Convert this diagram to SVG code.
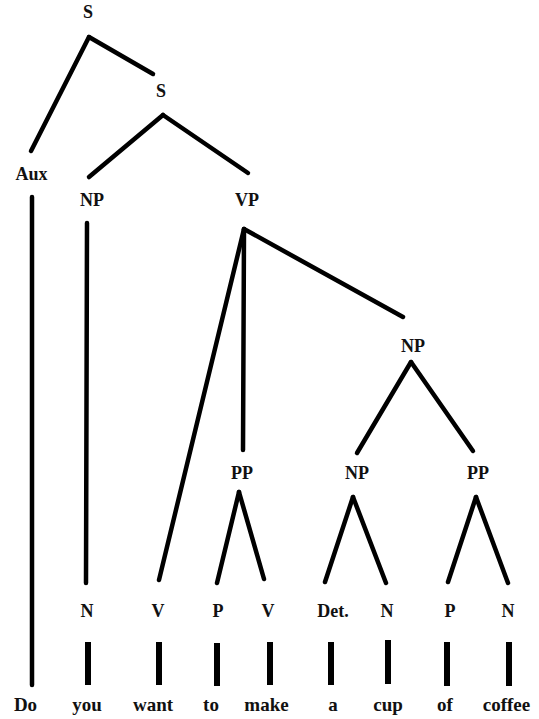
<svg xmlns="http://www.w3.org/2000/svg" width="539" height="719" viewBox="0 0 539 719">
<style>
text{font-family:'Liberation Serif','Times New Roman','DejaVu Serif',serif;font-weight:700;font-size:18px;fill:#111;text-anchor:middle}
.w text{font-size:19px}
.e line{stroke:#000;stroke-width:4.5;stroke-linecap:round}
.e .bar{stroke-width:6;stroke-linecap:butt}
</style>
<rect width="539" height="719" fill="#fff"/>
<g class="e" id="connectors">
<line x1="89" y1="37" x2="31" y2="151"/>
<line x1="89" y1="37" x2="153" y2="74"/>
<line x1="163" y1="115" x2="89" y2="177"/>
<line x1="163" y1="115" x2="248" y2="173"/>
<line x1="32" y1="197" x2="32" y2="685"/>
<line x1="87" y1="223" x2="86" y2="583"/>
<line x1="244" y1="229" x2="159" y2="580"/>
<line x1="244" y1="229" x2="243" y2="450"/>
<line x1="244" y1="229" x2="403" y2="317"/>
<line x1="411" y1="362" x2="357" y2="453"/>
<line x1="411" y1="362" x2="473" y2="451"/>
<line x1="239" y1="492" x2="217" y2="583"/>
<line x1="239" y1="492" x2="264" y2="579"/>
<line x1="353" y1="497" x2="325" y2="582"/>
<line x1="353" y1="497" x2="386" y2="583"/>
<line x1="476" y1="497" x2="448" y2="582"/>
<line x1="476" y1="497" x2="508" y2="583"/>
<line class="bar" x1="88" y1="642" x2="88" y2="685"/>
<line class="bar" x1="159" y1="642" x2="159" y2="685"/>
<line class="bar" x1="217" y1="643" x2="217" y2="686"/>
<line class="bar" x1="270" y1="642" x2="270" y2="685"/>
<line class="bar" x1="331" y1="642" x2="331" y2="685"/>
<line class="bar" x1="388" y1="640" x2="388" y2="684"/>
<line class="bar" x1="447" y1="642" x2="447" y2="686"/>
<line class="bar" x1="509" y1="642" x2="509" y2="686"/>
</g>
<g id="n-S1"><text x="88" y="18">S</text></g>
<g id="n-S2"><text x="161" y="97">S</text></g>
<g id="n-Aux"><text x="31.5" y="180">Aux</text></g>
<g id="n-NP1"><text x="92" y="206">NP</text></g>
<g id="n-VP"><text x="247" y="206">VP</text></g>
<g id="n-NP2"><text x="413" y="352">NP</text></g>
<g id="n-PP1"><text x="242" y="479">PP</text></g>
<g id="n-NP3"><text x="357" y="479">NP</text></g>
<g id="n-PP2"><text x="478" y="479">PP</text></g>
<g id="n-N1"><text x="87" y="617">N</text></g>
<g id="n-V1"><text x="158" y="617">V</text></g>
<g id="n-P1"><text x="218" y="617">P</text></g>
<g id="n-V2"><text x="268" y="617">V</text></g>
<g id="n-Det"><text x="333" y="617">Det.</text></g>
<g id="n-N2"><text x="387" y="617">N</text></g>
<g id="n-P2"><text x="450" y="617">P</text></g>
<g id="n-N3"><text x="508" y="617">N</text></g>
<g class="w">
<g id="w-Do"><text x="25.5" y="711">Do</text></g>
<g id="w-you"><text x="87" y="711">you</text></g>
<g id="w-want"><text x="153" y="711">want</text></g>
<g id="w-to"><text x="211" y="711">to</text></g>
<g id="w-make"><text x="266.5" y="711">make</text></g>
<g id="w-a"><text x="333" y="711">a</text></g>
<g id="w-cup"><text x="388" y="711">cup</text></g>
<g id="w-of"><text x="445" y="711">of</text></g>
<g id="w-coffee"><text x="506.5" y="711">coffee</text></g>
</g>
</svg>
